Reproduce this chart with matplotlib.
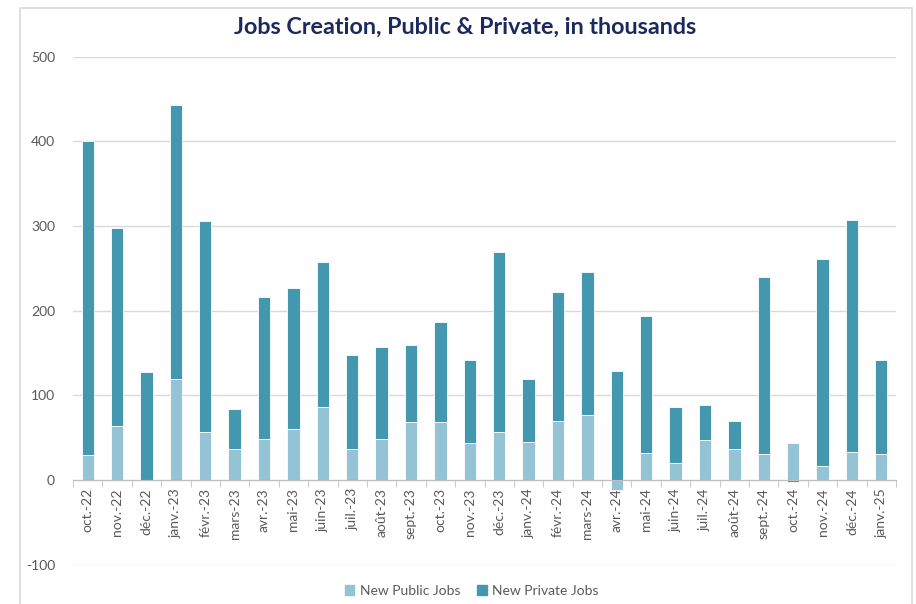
import matplotlib
matplotlib.use("Agg")
import matplotlib.pyplot as plt
import matplotlib.patches as mpatches
import numpy as np

months = ["oct.-22", "nov.-22", "déc.-22", "janv.-23", "févr.-23", "mars-23", "avr.-23",
          "mai-23", "juin-23", "juil.-23", "août-23", "sept.-23", "oct.-23", "nov.-23",
          "déc.-23", "janv.-24", "févr.-24", "mars-24", "avr.-24", "mai-24", "juin-24",
          "juil.-24", "août-24", "sept.-24", "oct.-24", "nov.-24", "déc.-24", "janv.-25"]
public_jobs = [29, 64, -1, 119, 56, 36, 48, 60, 86, 37, 48, 68, 68, 43,
               56, 45, 70, 76, -12, 32, 20, 47, 36, 31, 44, 16, 33, 31]
private_jobs = [371, 233, 127, 324, 250, 48, 168, 166, 171, 111, 109, 91, 118, 98,
                213, 74, 152, 170, 128, 161, 66, 41, 34, 209, -2, 245, 274, 111]
y_ticks = [-100, 0, 100, 200, 300, 400, 500]

c_public = "#93C3D5"
c_private = "#4398AF"
grey_txt = "#595959"

plt.rcParams["font.family"] = ["Lato", "DejaVu Sans"]
plt.rcParams["axes.unicode_minus"] = False

fig = plt.figure(figsize=(9.16, 6.04), dpi=100)
ax = fig.add_axes([73 / 916, 39.5 / 604, 823 / 916, 508 / 604])

# chart area border
fig.patches.append(mpatches.Rectangle((20 / 916, -0.01), 892 / 916, 1 - 8 / 604 + 0.01,
                                      transform=fig.transFigure, fill=False,
                                      edgecolor="#D9D9D9", linewidth=1.2))

x = np.arange(len(months))
pub = np.array(public_jobs, dtype=float)
priv = np.array(private_jobs, dtype=float)

# excel style stacking: positives on positives, negatives below zero
pos_base = np.zeros(len(x))
neg_base = np.zeros(len(x))
w = 0.42
for vals, col, lab in [(pub, c_public, "New Public Jobs"), (priv, c_private, "New Private Jobs")]:
    bottoms = np.where(vals >= 0, pos_base, neg_base)
    ax.bar(x, vals, w, bottom=bottoms, color=col, edgecolor="white", linewidth=0.6,
           label=lab, zorder=3)
    pos_base = pos_base + np.where(vals >= 0, vals, 0)
    neg_base = neg_base + np.where(vals < 0, vals, 0)

ax.set_xlim(-0.5, len(months) - 0.5)
ax.set_ylim(-100, 500)
ax.set_yticks(y_ticks)
ax.yaxis.grid(True, color="#D9D9D9", linewidth=1.0, zorder=0)
ax.set_axisbelow(True)

for s in ["top", "right", "left"]:
    ax.spines[s].set_visible(False)
ax.spines["bottom"].set_position(("data", 0))
ax.spines["bottom"].set_color("#BFBFBF")
ax.spines["bottom"].set_zorder(4)

ax.set_xticks(x)
ax.set_xticklabels(months, rotation=90, fontsize=10, color=grey_txt)
ax.set_xticks(np.arange(-0.5, len(months), 1), minor=True)
ax.tick_params(axis="x", which="major", length=0, pad=6)
ax.tick_params(axis="x", which="minor", length=5, color="#BFBFBF")
ax.tick_params(axis="y", length=0, pad=13, labelsize=10, labelcolor=grey_txt)

fig.text(0.508, 1 - 27 / 604, "Jobs Creation, Public & Private, in thousands",
         ha="center", va="center", fontsize=16.8, fontweight="bold", color="#1B2A5E")

handles = [mpatches.Patch(color=c_public, label="New Public Jobs"),
           mpatches.Patch(color=c_private, label="New Private Jobs")]
fig.legend(handles=handles, loc="center", bbox_to_anchor=(0.515, 1 - 591 / 604), ncol=2,
           frameon=False, fontsize=10, handlelength=0.7, handleheight=0.7,
           handletextpad=0.4, columnspacing=1.2, labelcolor=grey_txt)

fig.savefig("out.png", dpi=100)
